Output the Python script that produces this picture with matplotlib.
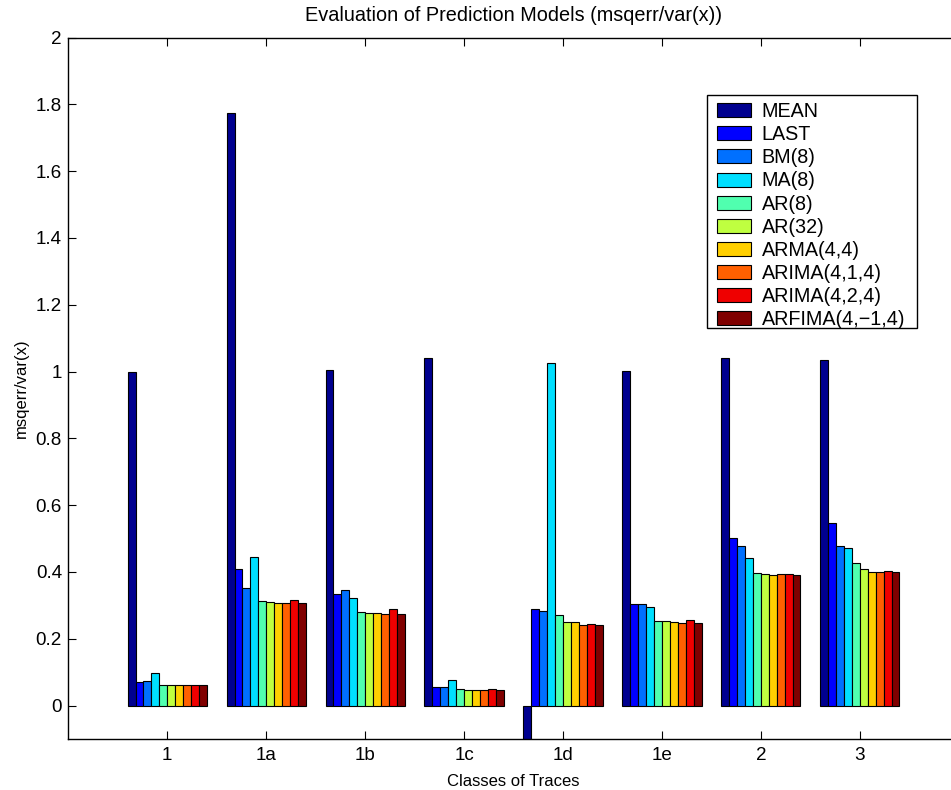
import matplotlib
matplotlib.use("Agg")
import matplotlib.pyplot as plt
import numpy as np
from matplotlib.patches import Rectangle
from matplotlib.ticker import FuncFormatter

plt.rcParams['font.family'] = ['Liberation Sans', 'DejaVu Sans']

# Trace classes on the x axis
classes = ['1', '1a', '1b', '1c', '1d', '1e', '2', '3']

# Prediction models (one bar per model in every class)
models = ['MEAN', 'LAST', 'BM(8)', 'MA(8)', 'AR(8)', 'AR(32)',
          'ARMA(4,4)', 'ARIMA(4,1,4)', 'ARIMA(4,2,4)', 'ARFIMA(4,\u22121,4)']

# msqerr/var(x) per model, listed by class
mean_err    = [1.000, 1.775, 1.006, 1.042, -0.150, 1.003, 1.040, 1.034]
last_err    = [0.071, 0.409, 0.333, 0.055, 0.289, 0.303, 0.501, 0.548]
bm8_err     = [0.074, 0.352, 0.345, 0.055, 0.283, 0.303, 0.477, 0.477]
ma8_err     = [0.097, 0.445, 0.321, 0.077, 1.025, 0.295, 0.442, 0.471]
ar8_err     = [0.062, 0.313, 0.279, 0.049, 0.271, 0.254, 0.397, 0.426]
ar32_err    = [0.062, 0.310, 0.277, 0.048, 0.250, 0.252, 0.393, 0.410]
arma_err    = [0.062, 0.308, 0.277, 0.048, 0.250, 0.249, 0.391, 0.400]
arima1_err  = [0.062, 0.308, 0.275, 0.048, 0.240, 0.247, 0.393, 0.401]
arima2_err  = [0.062, 0.315, 0.289, 0.050, 0.244, 0.255, 0.394, 0.404]
arfima_err  = [0.062, 0.306, 0.273, 0.047, 0.242, 0.246, 0.391, 0.401]

series = [mean_err, last_err, bm8_err, ma8_err, ar8_err, ar32_err,
          arma_err, arima1_err, arima2_err, arfima_err]

# Entries of the 64-level jet colormap picked by scaled bar colour data
colors = [(0.0, 0.0, 0.5625), (0.0, 0.0, 1.0), (0.0, 0.4375, 1.0),
          (0.0, 0.875, 1.0), (0.3125, 1.0, 0.6875), (0.75, 1.0, 0.25),
          (1.0, 0.8125, 0.0), (1.0, 0.375, 0.0), (0.9375, 0.0, 0.0),
          (0.5, 0.0, 0.0)]

W, H = 951, 790
fig = plt.figure(figsize=(W / 100, H / 100), dpi=100)
ax = fig.add_axes([68.3 / W, 1 - 739 / H, (958.8 - 68.3) / W, (739 - 37.5) / H])

x = np.arange(1, len(classes) + 1)
n = len(series)
group_w = 0.8
bar_w = group_w / n
for j, (vals, col, name) in enumerate(zip(series, colors, models)):
    offs = (j - (n - 1) / 2) * bar_w
    ax.bar(x + offs, vals, width=bar_w, color=col, edgecolor='black',
           linewidth=0.8, label=name)

ax.set_xlim(0, 9)
ax.set_ylim(-0.1, 2)
ax.set_xticks(x)
ax.set_xticklabels(classes)
ax.set_yticks(np.arange(0, 2.01, 0.2))
ax.yaxis.set_major_formatter(FuncFormatter(lambda v, p: '%g' % round(v, 2)))

ax.tick_params(direction='in', length=6, width=0.8, top=True, right=True,
               labelsize=13.6)
ax.tick_params(axis='y', pad=4.5)
ax.tick_params(axis='x', pad=6)
for s in ax.spines.values():
    s.set_linewidth(1.0)

ax.set_title('Evaluation of Prediction Models (msqerr/var(x))', fontsize=14.3, pad=12)
ax.set_xlabel('Classes of Traces', fontsize=12, labelpad=7)
ax.set_ylabel('msqerr/var(x)', fontsize=12, labelpad=5)

# Legend box drawn separately so its padding can be set per side
box = Rectangle((706.7 / W, 1 - 328 / H), 210 / W, 233 / H,
                transform=fig.transFigure, facecolor='white',
                edgecolor='black', linewidth=1.0, zorder=4.5)
ax.add_patch(box)
box.set_clip_on(False)

leg = ax.legend(loc='upper left', bbox_to_anchor=(716.7 / W, 1 - 102 / H),
                bbox_transform=fig.transFigure, fontsize=14.2, frameon=False,
                handlelength=1.73, handleheight=0.72, handletextpad=0.56,
                labelspacing=0.21, borderpad=0, borderaxespad=0)
leg.set_zorder(5)

fig.savefig('out.png', dpi=100)
